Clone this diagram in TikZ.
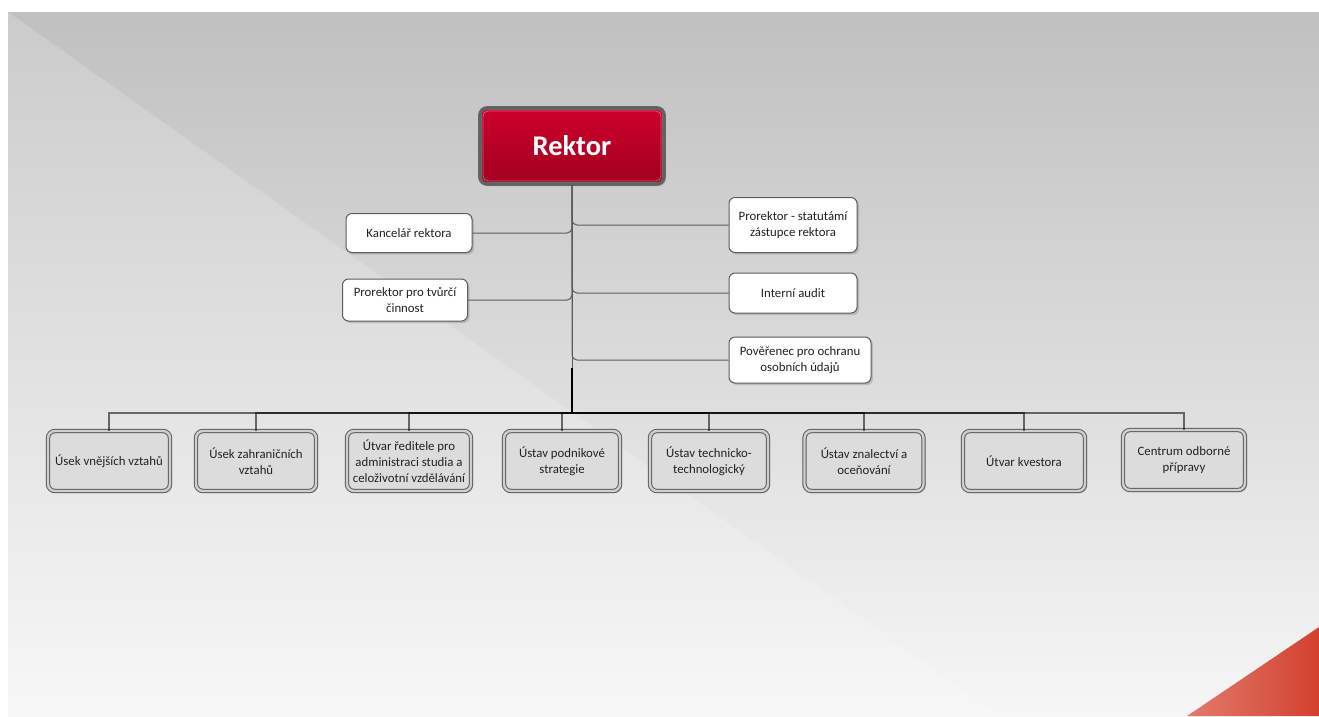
\documentclass[tikz,border=0pt]{standalone}
\usepackage{fontspec}
\setmainfont{Carlito}
\usetikzlibrary{shadows}
\definecolor{rekred}{HTML}{CE002B}
\definecolor{rekdark}{HTML}{A10020}
\definecolor{linegray}{HTML}{5C5C5C}
\definecolor{boxfill}{HTML}{DCDCDC}
\definecolor{boxgap}{HTML}{CFCFCF}
\definecolor{txtgray}{HTML}{222222}
\definecolor{bgtop}{HTML}{C0C0C0}
\definecolor{bgbot}{HTML}{F6F6F6}
\definecolor{bgtopl}{HTML}{CBCBCB}
\definecolor{bgbotl}{HTML}{F7F7F7}
\definecolor{cornerl}{HTML}{E17B6E}
\definecolor{cornerr}{HTML}{D3412D}
\begin{document}
\begin{tikzpicture}[x = 1pt,
	y = -1pt,
	rektorbox/.style = {draw=black!60, line width=1.1pt, double=gray!75!black, double distance=1.5pt,
		rounded corners=7pt, top color=rekred, bottom color=rekdark, text=white,
		font=\fontsize{28.5}{31}\selectfont\bfseries, minimum width=184pt, minimum height=76pt,
		drop shadow={shadow xshift=2pt, shadow yshift=-2pt, opacity=0.3},
		path picture={\draw[white, opacity=0.35, line width=0.8pt, rounded corners=5pt]
			([shift={(3pt,-3pt)}]path picture bounding box.north west) rectangle
			([shift={(-3pt,3pt)}]path picture bounding box.south east);}},
	sidebox/.style = {draw=linegray, line width=1pt, fill=white, rounded corners=6pt,
		align=center, text=txtgray, font=\fontsize{12.8}{16}\selectfont, inner sep=2pt,
		drop shadow={shadow xshift=2pt, shadow yshift=-2pt, opacity=0.35}},
	unitbox/.style = {draw=linegray, line width=1pt, double=boxgap, double distance=2.4pt,
		fill=boxfill, rounded corners=7pt, align=center, text=txtgray,
		font=\fontsize{12.8}{16}\selectfont, inner sep=1pt,
		minimum width=120pt, minimum height=60pt,
		drop shadow={shadow xshift=2pt, shadow yshift=-2pt, opacity=0.35}},
	link/.style = {draw=linegray, line width=1pt},
	buslink/.style = {draw=black, line width=1.2pt, draw opacity=0.55}]
	\useasboundingbox (0,0) rectangle (1319,716);
	
	% background
	\shade[top color=bgtop, bottom color=bgbot] (8,12) rectangle (1319,716);
	\shade[top color=bgtopl, bottom color=bgbotl] (8,12) -- (1000,716) -- (8,716) -- cycle;
	\shade[left color=cornerl, right color=cornerr] (1187,716) -- (1319,627) -- (1319,716) -- cycle;
	
	\node[rektorbox] (rektor) at (572,146) {Rektor};
	
	\node[sidebox, minimum width=126pt, minimum height=39pt] (kancelar) at (409,233) {Kancelář rektora};
	\node[sidebox, minimum width=125pt, minimum height=42pt] (tvurci) at (405,300) {Prorektor pro tvůrčí\\činnost};
	\node[sidebox, minimum width=128pt, minimum height=55pt] (statutar) at (793,225) {Prorektor - statutámí\\zástupce rektora};
	\node[sidebox, minimum width=128pt, minimum height=40pt] (audit) at (793,293) {Interní audit};
	\node[sidebox, minimum width=142pt, minimum height=46pt] (poverenec) at (800,360) {Pověřenec pro ochranu\\osobních údajů};
	
	\node[unitbox, minimum width=122pt] (vnejsi) at (109,461) {Úsek vnějších vztahů};
	\node[unitbox] (zahranicni) at (256,461) {Úsek zahraničních\\vztahů};
	\node[unitbox, minimum width=124pt] (reditel) at (409,461) {Útvar ředitele pro\\administraci studia a\\celoživotní vzdělávání};
	\node[unitbox, minimum width=116pt] (strategie) at (562,461) {Ústav podnikové\\strategie};
	\node[unitbox, minimum width=118pt] (technika) at (709,461) {Ústav technicko-\\technologický};
	\node[unitbox, minimum width=119pt] (znalectvi) at (864,461) {Ústav znalectví a\\oceňování};
	\node[unitbox, minimum width=122pt] (kvestor) at (1024,461) {Útvar kvestora};
	\node[unitbox, minimum width=122pt] (centrum) at (1184,460) {Centrum odborné\\přípravy};
	
	\coordinate (foot) at (572,368);
	\coordinate (bus) at (572,413);
	
	\draw[link] (rektor.south) -- (foot);
	\draw[link, rounded corners=5pt] (rektor.south) |- (kancelar.east);
	\draw[link, rounded corners=5pt] (rektor.south) |- (tvurci.east);
	\draw[link, rounded corners=5pt] (rektor.south) |- (statutar.west);
	\draw[link, rounded corners=5pt] (rektor.south) |- (audit.west);
	\draw[link, rounded corners=5pt] (rektor.south) |- (poverenec.west);
	
	\draw[buslink] (foot) -- (bus) -| (vnejsi.north);
	\draw[buslink] (foot) -- (bus) -| (zahranicni.north);
	\draw[buslink] (foot) -- (bus) -| (reditel.north);
	\draw[buslink] (foot) -- (bus) -| (strategie.north);
	\draw[buslink] (foot) -- (bus) -| (technika.north);
	\draw[buslink] (foot) -- (bus) -| (znalectvi.north);
	\draw[buslink] (foot) -- (bus) -| (kvestor.north);
	\draw[buslink] (foot) -- (bus) -| (centrum.north);
\end{tikzpicture}
\end{document}
